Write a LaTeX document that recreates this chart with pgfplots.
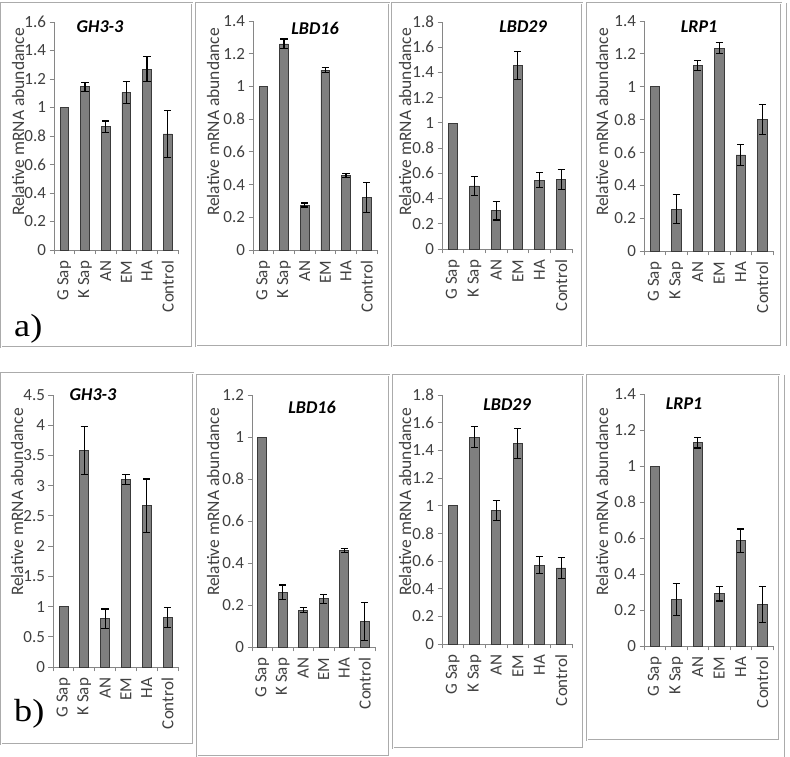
\documentclass[border=0pt]{standalone}
\usepackage{pgfplots}
\pgfplotsset{compat=1.18}
\usepackage{fontspec}
\setmainfont{Carlito}
\newfontfamily\serifwide[FakeStretch=1.13]{Liberation Serif}
\definecolor{axisgray}{HTML}{868686}
\definecolor{boxgray}{HTML}{ABABAB}
\definecolor{txtgray}{HTML}{404040}
\definecolor{barfill}{HTML}{7F7F7F}
\definecolor{barline}{HTML}{3A3A3A}
\pgfplotsset{
 panel/.style={
  scale only axis, anchor=south west,
  axis x line*=bottom, axis y line*=left,
  axis line style={draw=axisgray, line width=0.9pt},
  xmin=-0.5, xmax=5.5, ymin=0, enlargelimits=false,
  xtick={-0.5,0.5,1.5,2.5,3.5,4.5,5.5},
  x tick label as interval,
  xticklabels={G Sap,K Sap,AN,EM,HA,Control},
  xticklabel style={rotate=90, anchor=east, font=\fontsize{17}{17}\selectfont, text=txtgray},
  xticklabel shift=3pt,
  yticklabel style={font=\fontsize{17}{17}\selectfont, text=txtgray},
  tick align=outside, major tick length=4.5pt,
  tick style={draw=axisgray, line width=0.9pt},
  /pgf/number format/assume math mode=true,
  clip=false,
 },
 gbar/.style={ybar, bar width=0.43, bar shift=0pt, fill=barfill, draw=barline, line width=0.7pt},
 ebar/.style={gbar,
  /pgfplots/error bars/y dir=both, /pgfplots/error bars/y explicit,
  /pgfplots/error bars/error bar style={black, line width=1.1pt},
  /pgfplots/error bars/error mark options={black, rotate=90, mark size=3.6pt, line width=1.1pt}},
}
\begin{document}
\begin{tikzpicture}
\begin{scope}[x=1pt,y=1pt]
\useasboundingbox (0,0) rectangle (790,757);
% panel boxes
\tikzset{box/.style={draw=boxgray, line width=0.7pt, double=white, double distance=0.9pt}}
\draw[box] (1,754) rectangle (192,410);
\draw[box] (196,754) rectangle (389,411);
\draw[box] (392,754) rectangle (582,411);
\draw[box] (587,754) rectangle (781,411);
\draw[box] (787,754) -- (787,411);
\draw[box] (1,384) rectangle (193,13);
\draw[box] (197,382) rectangle (389,1);
\draw[box] (393,382) rectangle (583,9);
\draw[box] (587,382) rectangle (779,17);
\draw[box] (785,382) -- (785,0);
\end{scope}

% ---------- top row ----------
\begin{axis}[panel, at={(54pt,507pt)}, width=124pt, height=228pt, ymax=1.6,
  ytick={0,0.2,0.4,0.6,0.8,1,1.2,1.4,1.6}]
\addplot[gbar] coordinates {(0,1)};
\addplot[ebar] coordinates {(1,1.145) +- (0,0.03) (2,0.865) +- (0,0.04) (3,1.105) +- (0,0.08) (4,1.27) +- (0,0.09) (5,0.815) +- (0,0.165)};
\end{axis}
\begin{axis}[panel, at={(253pt,507pt)}, width=124pt, height=229pt, ymax=1.4,
  ytick={0,0.2,0.4,0.6,0.8,1,1.2,1.4}]
\addplot[gbar] coordinates {(0,1)};
\addplot[ebar] coordinates {(1,1.26) +- (0,0.03) (2,0.275) +- (0,0.012) (3,1.10) +- (0,0.015) (4,0.455) +- (0,0.012) (5,0.32) +- (0,0.09)};
\end{axis}
\begin{axis}[panel, at={(442pt,508pt)}, width=130pt, height=227pt, ymax=1.8,
  ytick={0,0.2,0.4,0.6,0.8,1,1.2,1.4,1.6,1.8}]
\addplot[gbar] coordinates {(0,1)};
\addplot[ebar] coordinates {(1,0.50) +- (0,0.078) (2,0.305) +- (0,0.075) (3,1.455) +- (0,0.11) (4,0.547) +- (0,0.06) (5,0.553) +- (0,0.078)};
\end{axis}
\begin{axis}[panel, at={(644pt,506pt)}, width=129pt, height=230pt, ymax=1.4,
  ytick={0,0.2,0.4,0.6,0.8,1,1.2,1.4}]
\addplot[gbar] coordinates {(0,1)};
\addplot[ebar] coordinates {(1,0.255) +- (0,0.09) (2,1.13) +- (0,0.03) (3,1.235) +- (0,0.035) (4,0.585) +- (0,0.065) (5,0.80) +- (0,0.09)};
\end{axis}

% ---------- bottom row ----------
\begin{axis}[panel, at={(53pt,90pt)}, width=125pt, height=272pt, ymax=4.5,
  ytick={0,0.5,1,1.5,2,2.5,3,3.5,4,4.5}]
\addplot[gbar] coordinates {(0,1)};
\addplot[ebar] coordinates {(1,3.58) +- (0,0.40) (2,0.80) +- (0,0.16) (3,3.10) +- (0,0.08) (4,2.67) +- (0,0.44) (5,0.815) +- (0,0.165)};
\end{axis}
\begin{axis}[panel, at={(252pt,110pt)}, width=123pt, height=252pt, ymax=1.2,
  ytick={0,0.2,0.4,0.6,0.8,1,1.2}]
\addplot[gbar] coordinates {(0,1)};
\addplot[ebar] coordinates {(1,0.26) +- (0,0.035) (2,0.175) +- (0,0.012) (3,0.23) +- (0,0.022) (4,0.458) +- (0,0.01) (5,0.12) +- (0,0.09)};
\end{axis}
\begin{axis}[panel, at={(442pt,113pt)}, width=130pt, height=249pt, ymax=1.8,
  ytick={0,0.2,0.4,0.6,0.8,1,1.2,1.4,1.6,1.8}]
\addplot[gbar] coordinates {(0,1)};
\addplot[ebar] coordinates {(1,1.495) +- (0,0.075) (2,0.965) +- (0,0.075) (3,1.45) +- (0,0.11) (4,0.57) +- (0,0.06) (5,0.55) +- (0,0.075)};
\end{axis}
\begin{axis}[panel, at={(644pt,111pt)}, width=129pt, height=252pt, ymax=1.4,
  ytick={0,0.2,0.4,0.6,0.8,1,1.2,1.4}]
\addplot[gbar] coordinates {(0,1)};
\addplot[ebar] coordinates {(1,0.258) +- (0,0.088) (2,1.13) +- (0,0.03) (3,0.29) +- (0,0.04) (4,0.585) +- (0,0.065) (5,0.23) +- (0,0.1)};
\end{axis}

\begin{scope}[x=1pt,y=1pt]
% titles
\tikzset{ttl/.style={font=\bfseries\itshape\fontsize{18}{18}\selectfont, inner sep=0}}
\node[ttl] at (100,730) {GH3-3};
\node[ttl] at (315,729) {LBD16};
\node[ttl] at (523,730) {LBD29};
\node[ttl] at (699,730) {LRP1};
\node[ttl] at (93,362) {GH3-3};
\node[ttl] at (312,350) {LBD16};
\node[ttl] at (507,352) {LBD29};
\node[ttl] at (684,353) {LRP1};
% y labels
\tikzset{ylab/.style={rotate=90, font=\fontsize{17.5}{17.5}\selectfont, text=txtgray, inner sep=0}}
\node[ylab] at (18,635) {Relative mRNA abundance};
\node[ylab] at (213,635) {Relative mRNA abundance};
\node[ylab] at (405,635) {Relative mRNA abundance};
\node[ylab] at (602,635) {Relative mRNA abundance};
\node[ylab] at (17,255) {Relative mRNA abundance};
\node[ylab] at (213,255) {Relative mRNA abundance};
\node[ylab] at (405,255) {Relative mRNA abundance};
\node[ylab] at (602,255) {Relative mRNA abundance};
% panel letters
\node[anchor=base west, font=\serifwide\fontsize{32}{32}\selectfont, inner sep=0] at (14,420) {a)};
\node[anchor=base west, font=\serifwide\fontsize{32}{32}\selectfont, inner sep=0] at (14,35) {b)};
\end{scope}
\end{tikzpicture}
\end{document}
